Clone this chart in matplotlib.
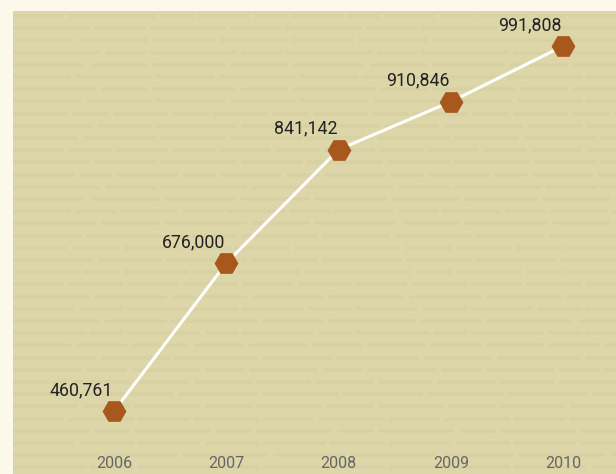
import numpy as np
import matplotlib.pyplot as plt

# data
years = [2006, 2007, 2008, 2009, 2010]
values = [460761, 676000, 841142, 910846, 991808]
labels = ['460,761', '676,000', '841,142', '910,846', '991,808']

plt.rcParams['font.family'] = ['Roboto', 'DejaVu Sans']

fig = plt.figure(figsize=(6.16, 4.74), dpi=100)
fig.patch.set_facecolor('#fcf9ea')
ax = fig.add_axes([13/616, 0, 603/616, 463/474])
ax.set_facecolor('#ddd6a9')

# faint "text" texture behind the chart
for i in range(40):
    yy = 1 - (5 + i*12.2)/463
    ax.plot([0, 1], [yy, yy], transform=ax.transAxes, color='#cfc897',
            lw=2.6, alpha=0.3, dashes=(14 + (i*7) % 11, 1.5, 9 + (i*5) % 13, 1.2),
            zorder=0)

ax.plot(years, values, color='white', lw=2.2, zorder=2)
ax.plot(years, values, linestyle='none', marker='H', markersize=16,
        color='#a8571d', markeredgecolor='#a8571d', zorder=3)

for x, y, s in zip(years, values, labels):
    ax.annotate(s, (x, y), xytext=(-33, 12), textcoords='offset pixels',
                ha='center', va='bottom', fontsize=12.8, color='#222222')

ax.set_xlim(2005.1, 2010.47)
ax.set_ylim(369058, 1042754)
ax.set_xticks(years)
ax.set_xticklabels([str(y) for y in years])
ax.tick_params(axis='x', direction='in', pad=-13, length=0, labelsize=11.5,
               labelcolor='#666666')
ax.set_yticks([])
for sp in ax.spines.values():
    sp.set_visible(False)

fig.savefig('out.png', dpi=100, facecolor=fig.get_facecolor())
